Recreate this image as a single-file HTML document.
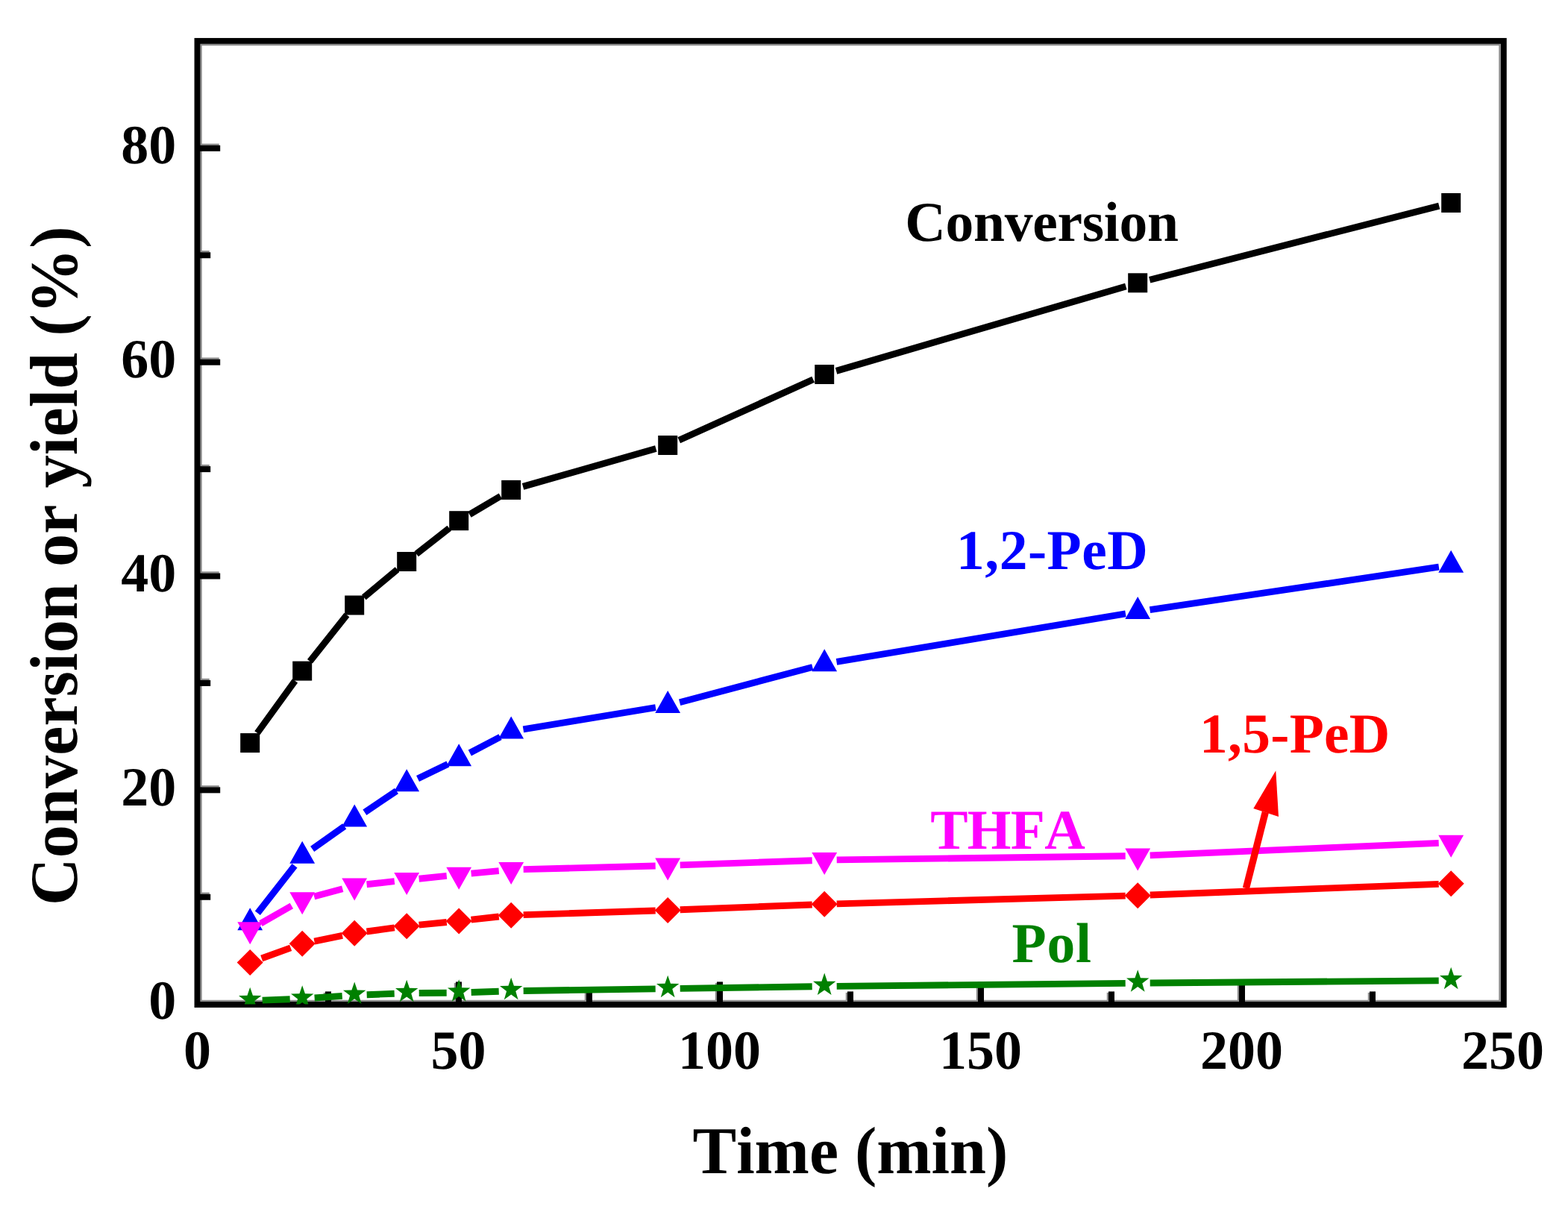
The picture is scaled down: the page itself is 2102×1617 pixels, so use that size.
<!DOCTYPE html>
<html lang="en"><head><meta charset="utf-8"><title>Conversion or yield vs. time</title>
<style>
html,body{margin:0;padding:0;background:#fff;}
body{width:2102px;height:1617px;overflow:hidden;}
svg{display:block;}
svg{filter:blur(0.6px);}
text{font-family:"Liberation Serif","DejaVu Serif",serif;font-weight:bold;font-kerning:none;font-variant-ligatures:none;text-rendering:geometricPrecision;}
</style>
</head><body>
<svg width="2102" height="1617" viewBox="0 0 2102 1617" role="img" aria-label="Conversion or yield (%) versus time (min)">
<rect x="0" y="0" width="2102" height="1617" fill="#ffffff"/>
<g id="plot">
<defs><clipPath id="plotclip"><rect x="265.2" y="55.6" width="1750" height="1290.8"/></clipPath></defs>
<rect x="269.5" y="60" width="1741" height="1282" fill="none" stroke="#8c8c8c" stroke-width="2.4"/>
<g fill="#8c8c8c">
<rect x="265.2" y="1196.58" width="15.5" height="2.3"/>
<rect x="265.2" y="1053.16" width="28.5" height="2.3"/>
<rect x="265.2" y="909.73" width="15.5" height="2.3"/>
<rect x="265.2" y="766.31" width="28.5" height="2.3"/>
<rect x="265.2" y="622.89" width="15.5" height="2.3"/>
<rect x="265.2" y="479.47" width="28.5" height="2.3"/>
<rect x="265.2" y="336.04" width="15.5" height="2.3"/>
<rect x="265.2" y="192.62" width="28.5" height="2.3"/>
<rect x="433.8" y="1330.9" width="2.3" height="15.5"/>
<rect x="608.8" y="1317.9" width="2.3" height="28.5"/>
<rect x="783.8" y="1330.9" width="2.3" height="15.5"/>
<rect x="958.8" y="1317.9" width="2.3" height="28.5"/>
<rect x="1133.8" y="1330.9" width="2.3" height="15.5"/>
<rect x="1308.8" y="1317.9" width="2.3" height="28.5"/>
<rect x="1483.8" y="1330.9" width="2.3" height="15.5"/>
<rect x="1658.8" y="1317.9" width="2.3" height="28.5"/>
<rect x="1833.8" y="1330.9" width="2.3" height="15.5"/>
</g>
<g fill="#000">
<rect x="265.2" y="1198.78" width="17" height="8"/>
<rect x="265.2" y="1055.36" width="30" height="8"/>
<rect x="265.2" y="911.93" width="17" height="8"/>
<rect x="265.2" y="768.51" width="30" height="8"/>
<rect x="265.2" y="625.09" width="17" height="8"/>
<rect x="265.2" y="481.67" width="30" height="8"/>
<rect x="265.2" y="338.24" width="17" height="8"/>
<rect x="265.2" y="194.82" width="30" height="8"/>
<rect x="436" y="1329.4" width="8" height="17"/>
<rect x="611" y="1316.4" width="8" height="30"/>
<rect x="786" y="1329.4" width="8" height="17"/>
<rect x="961" y="1316.4" width="8" height="30"/>
<rect x="1136" y="1329.4" width="8" height="17"/>
<rect x="1311" y="1316.4" width="8" height="30"/>
<rect x="1486" y="1329.4" width="8" height="17"/>
<rect x="1661" y="1316.4" width="8" height="30"/>
<rect x="1836" y="1329.4" width="8" height="17"/>
</g>
<rect x="264.5" y="54.9" width="1751.3" height="1292.1" fill="none" stroke="#000" stroke-width="7.9"/>
<g font-size="74" fill="#000">
<text x="236.3" y="1366.4" text-anchor="end">0</text>
<text x="236.3" y="1079.56" text-anchor="end">20</text>
<text x="236.3" y="792.71" text-anchor="end">40</text>
<text x="236.3" y="505.87" text-anchor="end">60</text>
<text x="236.3" y="219.02" text-anchor="end">80</text>
<text x="264.4" y="1433" text-anchor="middle">0</text>
<text x="614.4" y="1433" text-anchor="middle">50</text>
<text x="964.4" y="1433" text-anchor="middle">100</text>
<text x="1314.4" y="1433" text-anchor="middle">150</text>
<text x="1664.4" y="1433" text-anchor="middle">200</text>
<text x="2014.4" y="1433" text-anchor="middle">250</text>
</g>
<text transform="translate(928.45 1573) scale(1 1.02)" font-size="88" letter-spacing="0" fill="#000">Time (min)</text>
<text transform="translate(103.2 1214) rotate(-90) scale(1 1.03)" font-size="88" letter-spacing="0.17" fill="#000">Conversion or yield (%)</text>
<g clip-path="url(#plotclip)">
<path d="M344.89 982.74L395.51 912.96M415.46 886.68L464.94 824.42M487.86 800.92L532.54 763.58M558.19 742.83L602.21 708.37M629.41 689.82L670.99 665.28M701.07 652.37L879.33 601.53M910.23 590.2L1090.17 508.8M1121.04 497.37L1509.36 383.93M1541.19 375.22L1929.21 276.08" stroke="#000000" stroke-width="8.9" fill="none"/>
<g fill="#000000"><rect x="322.2" y="983.1" width="26" height="26"/><rect x="392.2" y="886.6" width="26" height="26"/><rect x="462.2" y="798.5" width="26" height="26"/><rect x="532.2" y="740" width="26" height="26"/><rect x="602.2" y="685.2" width="26" height="26"/><rect x="672.2" y="643.9" width="26" height="26"/><rect x="882.2" y="584" width="26" height="26"/><rect x="1092.2" y="489" width="26" height="26"/><rect x="1512.2" y="366.3" width="26" height="26"/><rect x="1932.2" y="259" width="26" height="26"/></g>
<path d="M345.37 1224.21L395.03 1160.79M418.68 1138.29L461.72 1107.91M488.89 1089.19L531.51 1060.51M560.03 1044.07L600.37 1024.43M629.81 1009.54L670.59 988.16M701.48 977.83L878.92 948.67M911.15 941.76L1089.25 894.44M1121.47 887.48L1508.93 822.82M1541.52 817.68L1928.88 760.22" stroke="#0000ff" stroke-width="8.9" fill="none"/>
<g fill="#0000ff"><polygon points="335.2,1217.2 352.1,1247.2 318.3,1247.2"/><polygon points="405.2,1127.8 422.1,1157.8 388.3,1157.8"/><polygon points="475.2,1078.4 492.1,1108.4 458.3,1108.4"/><polygon points="545.2,1031.3 562.1,1061.3 528.3,1061.3"/><polygon points="615.2,997.2 632.1,1027.2 598.3,1027.2"/><polygon points="685.2,960.5 702.1,990.5 668.3,990.5"/><polygon points="895.2,926 912.1,956 878.3,956"/><polygon points="1105.2,870.2 1122.1,900.2 1088.3,900.2"/><polygon points="1525.2,800.1 1542.1,830.1 1508.3,830.1"/><polygon points="1945.2,737.8 1962.1,767.8 1928.3,767.8"/></g>
<path d="M349.53 1238.11L390.87 1214.49M421.14 1202.02L459.26 1191.78M491.6 1185.72L528.8 1181.68M561.61 1178.21L598.79 1174.39M631.63 1171.15L668.77 1167.65M701.69 1165.66L878.71 1160.94M911.69 1159.92L1088.71 1153.68M1121.7 1152.88L1508.7 1147.82M1541.69 1146.9L1928.71 1130.4" stroke="#ff00ff" stroke-width="8.9" fill="none"/>
<g fill="#ff00ff"><polygon points="335.2,1266.3 352.1,1236.3 318.3,1236.3"/><polygon points="405.2,1226.3 422.1,1196.3 388.3,1196.3"/><polygon points="475.2,1207.5 492.1,1177.5 458.3,1177.5"/><polygon points="545.2,1199.9 562.1,1169.9 528.3,1169.9"/><polygon points="615.2,1192.7 632.1,1162.7 598.3,1162.7"/><polygon points="685.2,1186.1 702.1,1156.1 668.3,1156.1"/><polygon points="895.2,1180.5 912.1,1150.5 878.3,1150.5"/><polygon points="1105.2,1173.1 1122.1,1143.1 1088.3,1143.1"/><polygon points="1525.2,1167.6 1542.1,1137.6 1508.3,1137.6"/><polygon points="1945.2,1149.7 1962.1,1119.7 1928.3,1119.7"/></g>
<path d="M350.72 1284.99L389.68 1270.91M421.38 1262.04L459.02 1254.46M491.55 1248.98L528.85 1243.92M561.62 1240.1L598.78 1236.5M631.6 1233.1L668.8 1229M701.69 1226.67L878.71 1220.93M911.69 1219.76L1088.71 1212.94M1121.69 1211.84L1508.71 1201.16M1541.69 1200.07L1928.71 1185.33" stroke="#ff0000" stroke-width="8.9" fill="none"/>
<g fill="#ff0000"><polygon points="335.2,1273.1 352.7,1290.6 335.2,1308.1 317.7,1290.6"/><polygon points="405.2,1247.8 422.7,1265.3 405.2,1282.8 387.7,1265.3"/><polygon points="475.2,1233.7 492.7,1251.2 475.2,1268.7 457.7,1251.2"/><polygon points="545.2,1224.2 562.7,1241.7 545.2,1259.2 527.7,1241.7"/><polygon points="615.2,1217.4 632.7,1234.9 615.2,1252.4 597.7,1234.9"/><polygon points="685.2,1209.7 702.7,1227.2 685.2,1244.7 667.7,1227.2"/><polygon points="895.2,1202.9 912.7,1220.4 895.2,1237.9 877.7,1220.4"/><polygon points="1105.2,1194.8 1122.7,1212.3 1105.2,1229.8 1087.7,1212.3"/><polygon points="1525.2,1183.2 1542.7,1200.7 1525.2,1218.2 1507.7,1200.7"/><polygon points="1945.2,1167.2 1962.7,1184.7 1945.2,1202.2 1927.7,1184.7"/></g>
<path d="M351.69 1341.09L388.71 1339.71M421.66 1337.97L458.74 1335.43M491.69 1333.69L528.71 1332.31M561.7 1331.56L598.7 1331.24M631.69 1330.53L668.71 1329.27M701.7 1328.46L878.7 1325.84M911.7 1325.36L1088.7 1322.74M1121.7 1322.33L1508.7 1318.37M1541.7 1318.06L1928.7 1314.84" stroke="#008000" stroke-width="8.9" fill="none"/>
<g fill="#008000"><polygon points="335.2,1323.8 338.96,1334.83 350.39,1335.06 341.28,1342.11 344.59,1353.29 335.2,1346.62 325.81,1353.29 329.12,1342.11 320.01,1335.06 331.44,1334.83"/><polygon points="405.2,1321.2 408.96,1332.23 420.39,1332.46 411.28,1339.51 414.59,1350.69 405.2,1344.02 395.81,1350.69 399.12,1339.51 390.01,1332.46 401.44,1332.23"/><polygon points="475.2,1316.4 478.96,1327.43 490.39,1327.66 481.28,1334.71 484.59,1345.89 475.2,1339.22 465.81,1345.89 469.12,1334.71 460.01,1327.66 471.44,1327.43"/><polygon points="545.2,1313.8 548.96,1324.83 560.39,1325.06 551.28,1332.11 554.59,1343.29 545.2,1336.62 535.81,1343.29 539.12,1332.11 530.01,1325.06 541.44,1324.83"/><polygon points="615.2,1313.2 618.96,1324.23 630.39,1324.46 621.28,1331.51 624.59,1342.69 615.2,1336.02 605.81,1342.69 609.12,1331.51 600.01,1324.46 611.44,1324.23"/><polygon points="685.2,1310.8 688.96,1321.83 700.39,1322.06 691.28,1329.11 694.59,1340.29 685.2,1333.62 675.81,1340.29 679.12,1329.11 670.01,1322.06 681.44,1321.83"/><polygon points="895.2,1307.7 898.96,1318.73 910.39,1318.96 901.28,1326.01 904.59,1337.19 895.2,1330.52 885.81,1337.19 889.12,1326.01 880.01,1318.96 891.44,1318.73"/><polygon points="1105.2,1304.6 1108.96,1315.63 1120.39,1315.86 1111.28,1322.91 1114.59,1334.09 1105.2,1327.42 1095.81,1334.09 1099.12,1322.91 1090.01,1315.86 1101.44,1315.63"/><polygon points="1525.2,1300.3 1528.96,1311.33 1540.39,1311.56 1531.28,1318.61 1534.59,1329.79 1525.2,1323.12 1515.81,1329.79 1519.12,1318.61 1510.01,1311.56 1521.44,1311.33"/><polygon points="1945.2,1296.8 1948.96,1307.83 1960.39,1308.06 1951.28,1315.11 1954.59,1326.29 1945.2,1319.62 1935.81,1326.29 1939.12,1315.11 1930.01,1308.06 1941.44,1307.83"/></g>
</g>
<g font-size="75.5">
<text x="1213.25" y="322.5" letter-spacing="-0.27" fill="#000000">Conversion</text>
<text x="1282" y="763.1" letter-spacing="0.5" fill="#0000ff">1,2-PeD</text>
<text x="1247.15" y="1137.9" letter-spacing="-0.73" fill="#ff00ff">THFA</text>
<text x="1608.1" y="1009.3" letter-spacing="0.27" fill="#ff0000">1,5-PeD</text>
<text x="1356.55" y="1289.6" letter-spacing="0.8" fill="#008000">Pol</text>
</g>
<g fill="#ff0000"><path d="M1670.4 1191L1696.3 1089" stroke="#ff0000" stroke-width="9.3" fill="none"/><polygon points="1710.3,1033.3 1714,1095 1680.3,1084"/></g>
</g>
</svg>
</body></html>
